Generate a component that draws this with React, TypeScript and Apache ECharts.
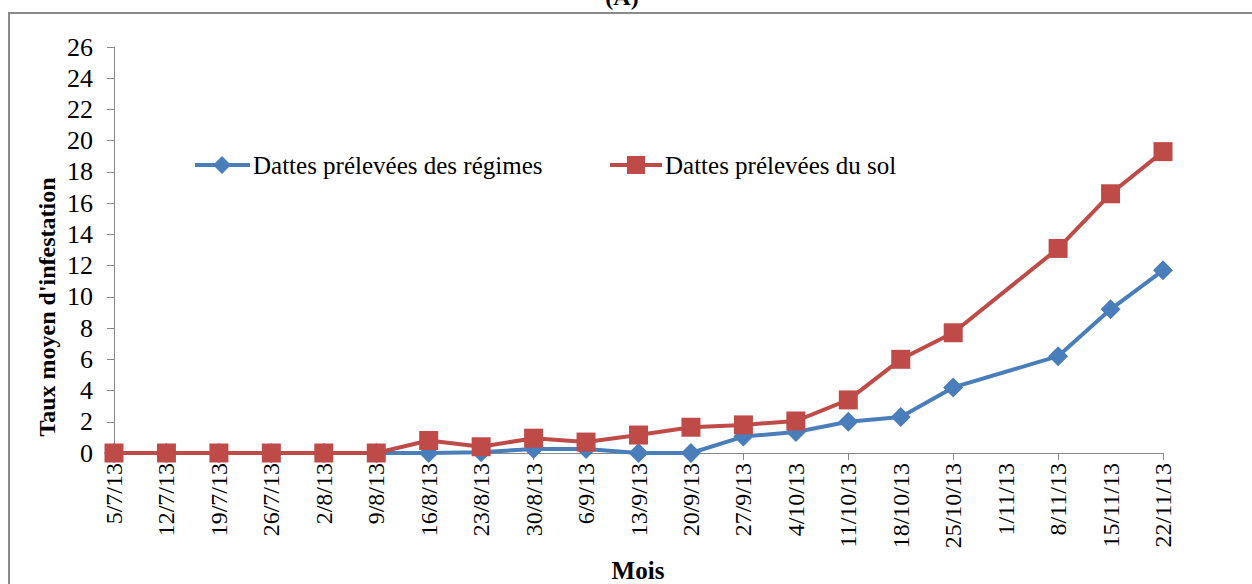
import React, { useEffect, useRef } from "react";
import * as echarts from "echarts";

const categories = [
  "5/7/13", "12/7/13", "19/7/13", "26/7/13", "2/8/13", "9/8/13", "16/8/13",
  "23/8/13", "30/8/13", "6/9/13", "13/9/13", "20/9/13", "27/9/13", "4/10/13",
  "11/10/13", "18/10/13", "25/10/13", "1/11/13", "8/11/13", "15/11/13", "22/11/13",
];

const regimes = [0, 0, 0, 0, 0, 0, 0, 0.05, 0.25, 0.25, 0, 0, 1.05, 1.35, 2.0, 2.3, 4.2, null, 6.2, 9.2, 11.7];
const sol = [0, 0, 0, 0, 0, 0, 0.8, 0.4, 0.95, 0.7, 1.15, 1.65, 1.8, 2.05, 3.4, 6.0, 7.7, null, 13.1, 16.6, 19.3];

const yTickLabels = ["0", "2", "4", "6", "8", "10", "12", "14", "16", "18", "20", "22", "24", "26"];

const seriesNames = ["Dattes prélevées des régimes", "Dattes prélevées du sol"];
const title = "(A)";
const yName = "Taux moyen d'infestation";
const xName = "Mois";

const BLUE = "#4A7EBB";
const RED = "#BE4B48";
const FAMILY = '"Liberation Serif", "Times New Roman", serif';
const W = 1252;
const H = 584;

function baseOption() {
  return {
    animation: false,
    backgroundColor: "#ffffff",
    grid: { left: 114, right: 89, top: 47, bottom: 131, containLabel: false },
    xAxis: {
      type: "category",
      data: categories,
      boundaryGap: false,
      axisLine: { lineStyle: { color: "#888", width: 1 } },
      axisTick: { show: true, length: 7, lineStyle: { color: "#888" } },
      axisLabel: { show: false },
    },
    yAxis: {
      type: "value",
      min: 0,
      max: 26,
      interval: 2,
      axisLine: { show: true, lineStyle: { color: "#888", width: 1 } },
      axisTick: { show: true, length: 7, lineStyle: { color: "#888" } },
      splitLine: { show: false },
      axisLabel: { show: false },
    },
  };
}

function txt(text: string, size: number, bold: boolean) {
  return {
    text,
    font: (bold ? "bold " : "normal ") + size + "px " + FAMILY,
    fill: "#000",
  };
}

export default function App() {
  const ref = useRef<HTMLDivElement>(null);
  useEffect(() => {
    if (!ref.current) return;

    const probeDiv = document.createElement("div");
    const probe = echarts.init(probeDiv, null, { renderer: "svg", width: W, height: H });
    probe.setOption({ ...baseOption(), series: [{ type: "line", data: sol }] });
    const xPos = categories.map((c) => probe.convertToPixel({ xAxisIndex: 0 }, c) as number);
    const yPos = yTickLabels.map((t) => probe.convertToPixel({ yAxisIndex: 0 }, Number(t)) as number);
    probe.dispose();

    const xLabels = categories.map((c, i) => ({
      type: "text",
      x: xPos[i],
      y: 463,
      rotation: Math.PI / 2,
      silent: true,
      style: { ...txt(c, 24, false), align: "right", verticalAlign: "middle" },
    }));

    const yLabels = yTickLabels.map((t, i) => ({
      type: "text",
      x: 93,
      y: yPos[i],
      silent: true,
      style: { ...txt(t, 26, false), align: "right", verticalAlign: "middle" },
    }));

    const legendY = 165;
    const legend = [
      {
        type: "line",
        shape: { x1: 195, y1: legendY, x2: 250, y2: legendY },
        style: { stroke: BLUE, lineWidth: 4 },
      },
      {
        type: "polygon",
        shape: {
          points: [
            [222, legendY - 9],
            [231, legendY],
            [222, legendY + 9],
            [213, legendY],
          ],
        },
        style: { fill: BLUE },
      },
      {
        type: "text",
        x: 253,
        y: legendY,
        style: { ...txt(seriesNames[0], 25, false), align: "left", verticalAlign: "middle" },
      },
      {
        type: "line",
        shape: { x1: 610, y1: legendY, x2: 662, y2: legendY },
        style: { stroke: RED, lineWidth: 4 },
      },
      {
        type: "rect",
        shape: { x: 627, y: legendY - 9, width: 18, height: 18 },
        style: { fill: RED },
      },
      {
        type: "text",
        x: 665,
        y: legendY,
        style: { ...txt(seriesNames[1], 25, false), align: "left", verticalAlign: "middle" },
      },
    ];

    const chart = echarts.init(ref.current, null, { renderer: "svg" });
    chart.setOption({
      ...baseOption(),
      series: [
        {
          name: seriesNames[0],
          type: "line",
          data: regimes,
          connectNulls: true,
          symbol: "diamond",
          symbolSize: 20,
          lineStyle: { color: BLUE, width: 4 },
          itemStyle: { color: BLUE },
          z: 2,
        },
        {
          name: seriesNames[1],
          type: "line",
          data: sol,
          connectNulls: true,
          symbol: "rect",
          symbolSize: 19,
          lineStyle: { color: RED, width: 4 },
          itemStyle: { color: RED },
          z: 3,
        },
      ],
      graphic: [
        {
          type: "rect",
          shape: { x: 9, y: 13, width: 1300, height: 620 },
          style: { fill: "none", stroke: "#8a8a8a", lineWidth: 2 },
          silent: true,
        },
        {
          type: "text",
          x: 622,
          y: 9,
          style: { ...txt(title, 24, true), align: "center", verticalAlign: "bottom" },
        },
        {
          type: "text",
          x: 47,
          y: 307,
          rotation: Math.PI / 2,
          style: { ...txt(yName, 24, true), align: "center", verticalAlign: "middle" },
        },
        {
          type: "text",
          x: 638,
          y: 570,
          style: { ...txt(xName, 25, true), align: "center", verticalAlign: "middle" },
        },
        ...legend,
        ...xLabels,
        ...yLabels,
      ],
    });
    return () => chart.dispose();
  }, []);
  return (
    <div
      ref={ref}
      style={{
        position: "absolute",
        left: 0,
        top: 0,
        width: W,
        height: H,
        fontFamily: FAMILY,
      }}
    />
  );
}
